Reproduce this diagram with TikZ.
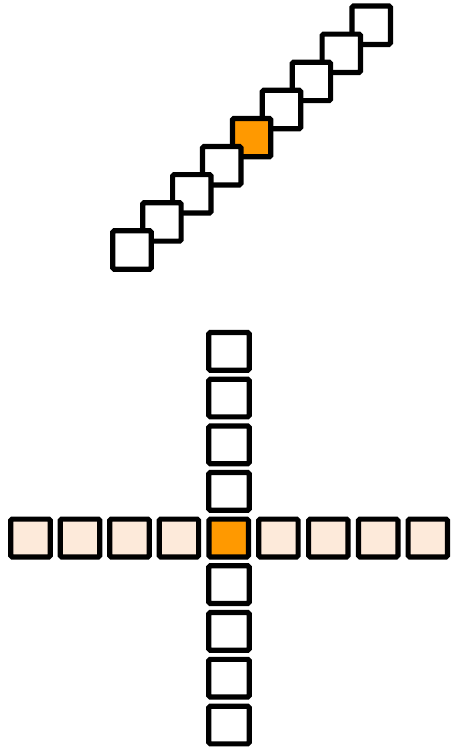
\documentclass[tikz,border=0pt]{standalone}
\definecolor{orng}{HTML}{FF9900}
\definecolor{peach}{HTML}{FDEADA}
\tikzset{
  cell/.style={draw=black, line width=5.2pt, fill=white, minimum width=38.4pt, minimum height=38.4pt, rounded corners=1.5pt, inner sep=0pt},
  cellh/.style={cell, minimum width=39.4pt, minimum height=37.8pt},
  cellv/.style={cell, minimum width=40.4pt, minimum height=37.7pt},
  hot/.style={fill=orng},
  soft/.style={fill=peach}
}
\begin{document}
\begin{tikzpicture}[x=1pt,y=-1pt]
\useasboundingbox (0,0) rectangle (450,747);
% diagonal: drawn from top-right to bottom-left
\foreach \i in {8,7,6,5} {
  \node[cell] (d\i) at ({132+29.9*\i},{250-28.1*\i}) {};
}
\node[cell,hot] (d4) at ({132+29.9*4},{250-28.1*4}) {};
\foreach \i in {3,2,1,0} {
  \node[cell] (d\i) at ({132+29.9*\i},{250-28.1*\i}) {};
}
% cross: vertical column
\foreach \j/\y in {1/351.3,2/398,3/444.8,4/491.4,6/584.6,7/631.4,8/678.2,9/725} {
  \node[cellv] (v\j) at (229,\y) {};
}
% horizontal row
\foreach \k/\x in {1/30.5,2/80,3/129.5,4/178.9,6/278.4,7/328.3,8/378.2,9/427.8} {
  \node[cellh,soft] (h\k) at (\x,538) {};
}
\node[cellh,hot] (c) at (228.7,538) {};
\end{tikzpicture}
\end{document}
